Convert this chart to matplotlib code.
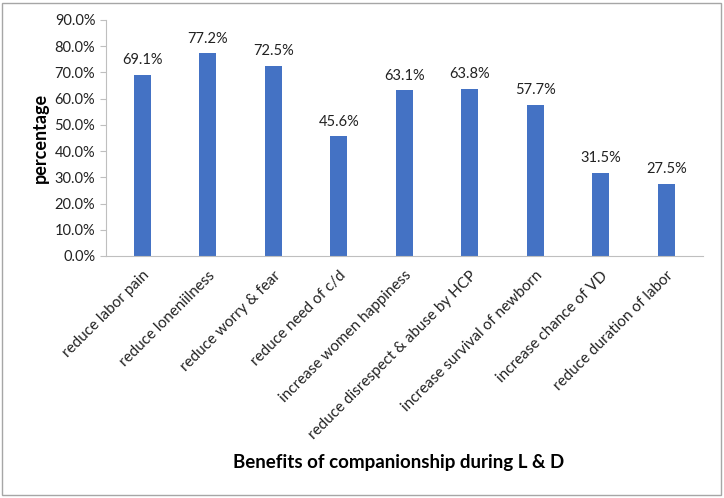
import matplotlib.pyplot as plt
from matplotlib.patches import Rectangle
from matplotlib.ticker import FuncFormatter

categories = ["reduce labor pain", "reduce loneniilness", "reduce worry & fear",
              "reduce need of c/d", "increase women happiness",
              "reduce disrespect & abuse by HCP", "increase survival of newborn",
              "increase chance of VD", "reduce duration of labor"]
values = [69.1, 77.2, 72.5, 45.6, 63.1, 63.8, 57.7, 31.5, 27.5]

plt.rcParams['font.family'] = ['Lato', 'DejaVu Sans']

fig = plt.figure(figsize=(7.24, 4.98), dpi=100)
ax = fig.add_axes([0.146, 0.486, 0.825, 0.474])

x = range(len(categories))
bars = ax.bar(x, values, width=0.26, color="#4472C4")
for b, v in zip(bars, values):
    ax.text(b.get_x() + b.get_width() / 2, v + 3.0, f"{v:.1f}%",
            ha="center", va="bottom", fontsize=10.5, color="#222222")

ax.set_xlim(-0.56, len(categories) - 0.44)
ax.set_ylim(0, 90)
ax.set_yticks(range(0, 91, 10))
ax.yaxis.set_major_formatter(FuncFormatter(lambda v, p: f"{v:.1f}%"))
ax.tick_params(axis="y", labelsize=10.5, length=4, color="#bfbfbf", labelcolor="#222222")
ax.set_xticks(list(x))
ax.set_xticklabels(categories, rotation=45, ha="right", rotation_mode="anchor",
                   fontsize=11, color="#222222")
ax.tick_params(axis="x", length=0, pad=9)
for s in ["top", "right"]:
    ax.spines[s].set_visible(False)
ax.spines["left"].set_color("#bfbfbf")
ax.spines["bottom"].set_color("#bfbfbf")

ax.set_ylabel("percentage", fontsize=13, fontweight="bold", labelpad=4)
fig.text(0.55, 0.072, "Benefits of companionship during L & D", ha="center",
         va="center", fontsize=13.5, fontweight="bold")

fig.patches.append(Rectangle((0.003, 0.006), 0.993, 0.988, transform=fig.transFigure,
                             fill=False, edgecolor="#a6a6a6", linewidth=1))

fig.savefig("out.png", dpi=100)
